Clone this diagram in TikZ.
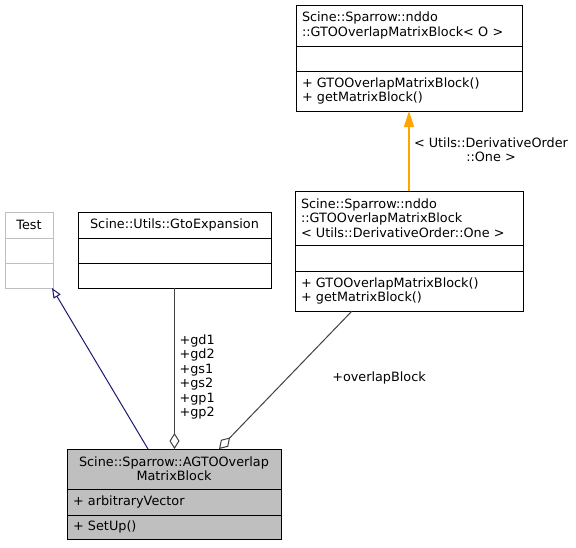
\documentclass[tikz,border=0pt]{standalone}
\usepackage{fontspec}
\setmainfont{DejaVu Sans}
\usetikzlibrary{positioning, arrows.meta}
\definecolor{edgegray}{HTML}{404040}
\definecolor{boxgray}{HTML}{BFBFBF}
\definecolor{navyblue}{HTML}{191970}
\definecolor{tplorange}{HTML}{FFA500}

\begin{document}
\begin{tikzpicture}[x=1pt, y=-1pt,
  font=\fontsize{12.8}{14.4}\selectfont,
  part/.style={rectangle, draw=black, line width=1pt, outer sep=0pt,
    inner ysep=0pt, inner xsep=6pt, fill=white},
  %
  leftpart/.style={part, align=left},
  %
  greypart/.style={part, draw=boxgray},
  %
  mainpart/.style={part, fill=boxgray},
  %
  inherit/.style={color=navyblue, line width=1pt,
    -{Triangle[open, length=10pt, width=8pt]}},
  %
  aggr/.style={color=edgegray, line width=1pt,
    -{Diamond[open, length=16pt, width=10pt]}},
  %
  realize/.style={color=tplorange, line width=1.2pt,
    -{Triangle[length=16pt, width=10pt]}}
  ]

  \useasboundingbox (0,0) rectangle (576,547);

  % Test
  \node [greypart, minimum width=48pt, minimum height=26pt, anchor=north west]
    (testt) at (5,212) {Test};
  \node [greypart, minimum width=48pt, minimum height=25pt, below=0pt of testt] (testa) {};
  \node [greypart, minimum width=48pt, minimum height=25pt, below=0pt of testa] (testm) {};

  % GtoExpansion
  \node [part, minimum width=193pt, minimum height=26pt, anchor=north west]
    (gtot) at (78,212) {Scine::Utils::GtoExpansion};
  \node [part, minimum width=193pt, minimum height=25pt, below=0pt of gtot] (gtoa) {};
  \node [part, minimum width=193pt, minimum height=25pt, below=0pt of gtoa] (gtom) {};

  % template
  \node [leftpart, text width=214pt, minimum height=41pt, anchor=north west]
    (tmplt) at (296,5) {Scine::Sparrow::nddo\\::GTOOverlapMatrixBlock< O >};
  \node [leftpart, text width=214pt, minimum height=25pt, below=0pt of tmplt] (tmpla) {};
  \node [leftpart, text width=214pt, minimum height=40pt, below=0pt of tmpla]
    (tmplm) {+ GTOOverlapMatrixBlock()\\+ getMatrixBlock()};

  % instance
  \node [leftpart, text width=216pt, minimum height=54pt, anchor=north west]
    (instt) at (295,191) {Scine::Sparrow::nddo\\::GTOOverlapMatrixBlock\\< Utils::DerivativeOrder::One >};
  \node [leftpart, text width=216pt, minimum height=26pt, below=0pt of instt] (insta) {};
  \node [leftpart, text width=216pt, minimum height=40pt, below=0pt of insta]
    (instm) {+ GTOOverlapMatrixBlock()\\+ getMatrixBlock()};

  % AGTOOverlapMatrixBlock
  \node [mainpart, minimum width=214pt, minimum height=40pt, align=center, anchor=north west]
    (maint) at (67,449) {Scine::Sparrow::AGTOOverlap\\MatrixBlock};
  \node [mainpart, align=left, text width=202pt, minimum height=26pt, below=0pt of maint]
    (maina) {+ arbitraryVector};
  \node [mainpart, align=left, text width=202pt, minimum height=24pt, below=0pt of maina]
    (mainm) {+ SetUp()};

  % edges
  \draw [inherit] ([xshift=81pt]maint.north west) -- ([xshift=-1pt]testm.south east);
  \draw [aggr] (gtom.south) -- (gtom.south |- maint.north);
  \draw [aggr] ([xshift=57pt]instm.south west) -- ([xshift=152pt]maint.north west);
  \draw [realize] ([xshift=114pt]instt.north west) -- ([xshift=113pt]tmplm.south west);

  % labels
  \node [anchor=west, align=left] (gtolbl) at (176,377)
    {+gd1\\+gd2\\+gs1\\+gs2\\+gp1\\+gp2};
  \node (instlbl) at (379,378) {+overlapBlock};
  \node [align=center] (tmpllbl) at (491,150)
    {< Utils::DerivativeOrder\\::One >};

\end{tikzpicture}
\end{document}
